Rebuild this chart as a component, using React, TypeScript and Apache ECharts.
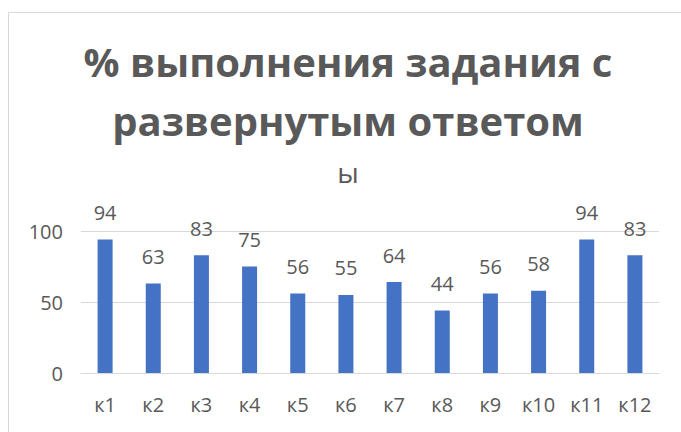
import React, { useEffect, useRef } from "react";
import * as echarts from "echarts";

const categories = ["к1", "к2", "к3", "к4", "к5", "к6", "к7", "к8", "к9", "к10", "к11", "к12"];
const values = [94, 63, 83, 75, 56, 55, 64, 44, 56, 58, 94, 83];
const titleLines = ["% выполнения задания с", "развернутым ответом"];
const subTitle = "ы";

const FONT = "'Open Sans', 'Noto Sans', sans-serif";
const TEXT = "#595959";

export default function App() {
  const ref = useRef<HTMLDivElement>(null);
  useEffect(() => {
    document.body.style.margin = "0";
    const chart = echarts.init(ref.current!, null, { renderer: "svg" });
    chart.setOption({
      animation: false,
      backgroundColor: "#ffffff",
      textStyle: { fontFamily: FONT },
      grid: { left: 81, right: 22, top: 231, bottom: 59, containLabel: false },
      xAxis: {
        type: "category",
        data: categories,
        axisLine: { show: true, lineStyle: { color: "#d9d9d9", width: 1 } },
        axisTick: { show: false },
        axisLabel: { color: TEXT, fontSize: 20, margin: 21, fontFamily: FONT },
      },
      yAxis: {
        type: "value",
        min: 0,
        max: 100,
        interval: 50,
        axisLine: { show: false },
        axisTick: { show: false },
        splitLine: { lineStyle: { color: "#d9d9d9", width: 1 } },
        axisLabel: { color: TEXT, fontSize: 20, margin: 18, fontFamily: FONT },
      },
      series: [
        {
          type: "bar",
          data: values,
          barWidth: 15,
          itemStyle: { color: "#4472C4" },
          label: {
            show: true,
            position: "top",
            distance: 17,
            color: TEXT,
            fontSize: 20,
            fontFamily: FONT,
          },
        },
      ],
      graphic: [
        {
          type: "rect",
          shape: { x: 8.5, y: 12.5, width: 700, height: 450 },
          style: { fill: "none", stroke: "#d9d9d9", lineWidth: 1 },
          silent: true,
          z: -1,
        },
        {
          type: "text",
          x: 348,
          y: 61.5,
          style: {
            text: titleLines[0],
            fill: TEXT,
            font: `bold 40px ${FONT}`,
            align: "center",
            verticalAlign: "middle",
          },
        },
        {
          type: "text",
          x: 348,
          y: 120,
          style: {
            text: titleLines[1],
            fill: TEXT,
            font: `bold 40px ${FONT}`,
            align: "center",
            verticalAlign: "middle",
          },
        },
        {
          type: "text",
          x: 348,
          y: 172,
          style: {
            text: subTitle,
            fill: TEXT,
            font: `28px ${FONT}`,
            align: "center",
            verticalAlign: "middle",
          },
        },
      ],
    });
    return () => chart.dispose();
  }, []);
  return <div ref={ref} style={{ width: 681, height: 432 }} />;
}
